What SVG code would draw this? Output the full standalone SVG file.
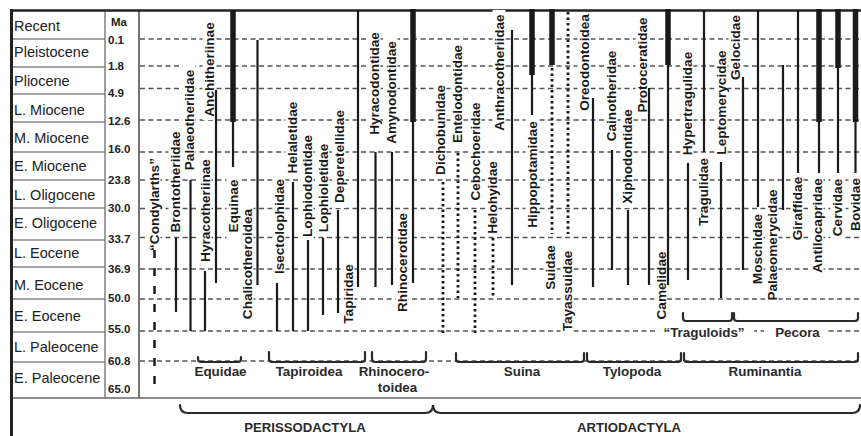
<svg xmlns="http://www.w3.org/2000/svg" width="861" height="436" viewBox="0 0 861 436">
<style>
.ep{font:14.5px "Liberation Sans",Arial,sans-serif;fill:#222}
.ma{font:bold 11.5px "Liberation Sans",Arial,sans-serif;fill:#222}
.tx{font:bold 13.6px "Liberation Sans",Arial,sans-serif;fill:#1a1a1a;text-anchor:middle;dominant-baseline:central}
.cl{font:bold 13.4px "Liberation Sans",Arial,sans-serif;fill:#2a2a2a;text-anchor:middle}
.big{font:bold 13.2px "Liberation Sans",Arial,sans-serif;fill:#2a2a2a;text-anchor:middle}
.bar{stroke:#1a1a1a;stroke-width:2.2;fill:none}
.thick{stroke:#1a1a1a;stroke-width:5.5}
.dot{stroke:#1a1a1a;stroke-width:2.8;stroke-dasharray:2.6 2.9;fill:none}
.grid{stroke:#555;stroke-width:1.3;stroke-dasharray:5 3.5}
.sep{stroke:#888;stroke-width:1.3}
.mask{fill:#fff}
.br{stroke:#2a2a2a;stroke-width:2.2;fill:none;stroke-linecap:round}
</style>
<rect width="861" height="436" fill="#fff"/>

<g id="grid" class="grid">
<line x1="140" y1="39" x2="861" y2="39"/>
<line x1="140" y1="66" x2="861" y2="66"/>
<line x1="140" y1="88.5" x2="861" y2="88.5"/>
<line x1="140" y1="120" x2="861" y2="120"/>
<line x1="140" y1="152" x2="861" y2="152"/>
<line x1="140" y1="180" x2="861" y2="180"/>
<line x1="140" y1="208.5" x2="861" y2="208.5"/>
<line x1="140" y1="237.5" x2="861" y2="237.5"/>
<line x1="140" y1="269" x2="861" y2="269"/>
<line x1="140" y1="299" x2="861" y2="299"/>
<line x1="140" y1="331" x2="861" y2="331"/>
<line x1="140" y1="361" x2="861" y2="361"/>
</g>

<g id="frame">
<line class="sep" x1="12" y1="39" x2="105" y2="39"/>
<line class="sep" x1="12" y1="67" x2="105" y2="67"/>
<line class="sep" x1="12" y1="94" x2="105" y2="94"/>
<line class="sep" x1="12" y1="122" x2="105" y2="122"/>
<line class="sep" x1="12" y1="152" x2="105" y2="152"/>
<line class="sep" x1="12" y1="180" x2="105" y2="180"/>
<line class="sep" x1="12" y1="208" x2="105" y2="208"/>
<line class="sep" x1="12" y1="240" x2="105" y2="240"/>
<line class="sep" x1="12" y1="267" x2="105" y2="267"/>
<line class="sep" x1="12" y1="299" x2="105" y2="299"/>
<line class="sep" x1="12" y1="332" x2="105" y2="332"/>
<line class="sep" x1="12" y1="362" x2="105" y2="362"/>
<line x1="105" y1="10" x2="105" y2="398" stroke="#777" stroke-width="1.4"/>
<line x1="139" y1="10" x2="139" y2="398" stroke="#444" stroke-width="1.5"/>
<line x1="11" y1="398" x2="861" y2="398" stroke="#666" stroke-width="1.5"/>
<line x1="10" y1="10.5" x2="861" y2="10.5" stroke="#222" stroke-width="2.6"/>
<line x1="11.5" y1="9" x2="11.5" y2="436" stroke="#222" stroke-width="3"/>
</g>

<g id="epochs" class="ep">
<text x="14" y="30.5">Recent</text>
<text x="14" y="57">Pleistocene</text>
<text x="14" y="86">Pliocene</text>
<text x="14" y="115">L. Miocene</text>
<text x="14" y="143">M. Miocene</text>
<text x="14" y="171">E. Miocene</text>
<text x="14" y="200">L. Oligocene</text>
<text x="14" y="228">E. Oligocene</text>
<text x="14" y="258">L. Eocene</text>
<text x="14" y="290">M. Eocene</text>
<text x="14" y="321">E. Eocene</text>
<text x="14" y="352">L. Paleocene</text>
<text x="14" y="383">E. Paleocene</text>
</g>

<g id="ma-scale" class="ma">
<text x="111" y="26">Ma</text>
<text x="108" y="44">0.1</text>
<text x="108" y="69.5">1.8</text>
<text x="108" y="97">4.9</text>
<text x="108" y="125">12.6</text>
<text x="108" y="153">16.0</text>
<text x="108" y="184">23.8</text>
<text x="108" y="212">30.0</text>
<text x="108" y="243">33.7</text>
<text x="108" y="273">36.9</text>
<text x="108" y="302">50.0</text>
<text x="108" y="333">55.0</text>
<text x="108" y="365">60.8</text>
<text x="108" y="393">65.0</text>
</g>

<g id="condylarths"><rect class="mask" x="147.5" y="159" width="13" height="91"/><text class="tx" transform="translate(154,204.5) rotate(-90)">“Condylarths”</text><line x1="154.5" y1="250" x2="154.5" y2="390" stroke="#1a1a1a" stroke-width="2.5" stroke-dasharray="8 10"/></g>
<g id="brontotheriidae"><rect class="mask" x="168.5" y="129" width="13" height="106"/><text class="tx" transform="translate(175,182) rotate(-90)">Brontotheriidae</text><line class="bar" x1="176" y1="238" x2="176" y2="312"/></g>
<g id="palaeotheriidae"><rect class="mask" x="182.5" y="65" width="13" height="110"/><text class="tx" transform="translate(189,120) rotate(-90)">Palaeotheriidae</text><line class="bar" x1="190.5" y1="180" x2="190.5" y2="331"/></g>
<g id="hyracotheriinae"><rect class="mask" x="198.5" y="156" width="13" height="109"/><text class="tx" transform="translate(205,210.5) rotate(-90)">Hyracotheriinae</text><line class="bar" x1="205" y1="271" x2="205" y2="331"/></g>
<g id="anchitheriinae"><rect class="mask" x="202.5" y="19" width="12.5" height="101"/><text class="tx" transform="translate(209,69.5) rotate(-90)">Anchitheriinae</text><line class="bar" x1="216" y1="90" x2="216" y2="283"/></g>
<g id="equinae"><rect class="mask" x="226.5" y="173" width="13" height="66"/><text class="tx" transform="translate(233,206) rotate(-90)">Equinae</text><line class="thick" x1="233" y1="10" x2="233" y2="122"/><line class="bar" x1="233" y1="122" x2="233" y2="167"/></g>
<g id="chalicotheroidea"><rect class="mask" x="240.5" y="205" width="13" height="118"/><text class="tx" transform="translate(247,264) rotate(-90)">Chalicotheroidea</text><line class="bar" x1="257.5" y1="40" x2="257.5" y2="285"/></g>
<g id="isectolophidae"><rect class="mask" x="272.5" y="175" width="13" height="103"/><text class="tx" transform="translate(279,226.5) rotate(-90)">Isectolophidae</text><line class="bar" x1="277" y1="283" x2="277" y2="331"/></g>
<g id="helaletidae"><rect class="mask" x="285.5" y="97" width="13" height="81"/><text class="tx" transform="translate(292,137.5) rotate(-90)">Helaletidae</text><line class="bar" x1="293" y1="182" x2="293" y2="331"/></g>
<g id="lophiodontidae"><rect class="mask" x="300.5" y="132" width="13" height="108"/><text class="tx" transform="translate(307,186) rotate(-90)">Lophiodontidae</text><line class="bar" x1="308" y1="240" x2="308" y2="331"/></g>
<g id="lophioletidae"><rect class="mask" x="316.5" y="140" width="13" height="96"/><text class="tx" transform="translate(323,188) rotate(-90)">Lophioletidae</text><line class="bar" x1="323" y1="238" x2="323" y2="315"/></g>
<g id="deperetellidae"><rect class="mask" x="332.5" y="105" width="13" height="103"/><text class="tx" transform="translate(339,156.5) rotate(-90)">Deperetellidae</text><line class="bar" x1="338" y1="210" x2="338" y2="313"/></g>
<g id="tapiridae"><rect class="mask" x="341.5" y="262" width="13" height="64"/><text class="tx" transform="translate(348,294) rotate(-90)">Tapiridae</text><line class="bar" x1="358" y1="10" x2="358" y2="287"/></g>
<g id="hyracodontidae"><rect class="mask" x="367.5" y="36" width="13" height="95"/><text class="tx" transform="translate(374,83.5) rotate(-90)">Hyracodontidae</text><line class="bar" x1="375.5" y1="152" x2="375.5" y2="287"/></g>
<g id="amynodontidae"><rect class="mask" x="384.5" y="36" width="13" height="113"/><text class="tx" transform="translate(391,92.5) rotate(-90)">Amynodontidae</text><line class="bar" x1="392" y1="152" x2="392" y2="285"/></g>
<g id="rhinocerotidae"><rect class="mask" x="395.5" y="210" width="13" height="105"/><text class="tx" transform="translate(402,262.5) rotate(-90)">Rhinocerotidae</text><line class="thick" x1="413" y1="9" x2="413" y2="122"/><line class="bar" x1="413" y1="122" x2="413" y2="283"/></g>
<g id="dichobunidae"><rect class="mask" x="433.5" y="82" width="13" height="96"/><text class="tx" transform="translate(440,130) rotate(-90)">Dichobunidae</text><line class="dot" x1="443" y1="182" x2="443" y2="333"/></g>
<g id="entelodontidae"><rect class="mask" x="450.5" y="42" width="13" height="104"/><text class="tx" transform="translate(457,94) rotate(-90)">Entelodontidae</text><line class="dot" x1="458" y1="153" x2="458" y2="298"/></g>
<g id="cebochoeridae"><rect class="mask" x="468.5" y="97" width="13" height="109"/><text class="tx" transform="translate(475,151.5) rotate(-90)">Cebochoeridae</text><line class="dot" x1="475" y1="210" x2="475" y2="333"/></g>
<g id="helohyidae"><rect class="mask" x="485.5" y="159" width="13" height="77"/><text class="tx" transform="translate(492,197.5) rotate(-90)">Helohyidae</text><line class="dot" x1="493" y1="238" x2="493" y2="298"/></g>
<g id="anthracotheriidae"><rect class="mask" x="492.5" y="10" width="13" height="125"/><text class="tx" transform="translate(499,72.5) rotate(-90)">Anthracotheriidae</text><line class="bar" x1="512" y1="30" x2="512" y2="285"/></g>
<g id="hippopotamidae"><rect class="mask" x="525.5" y="119" width="13" height="111"/><text class="tx" transform="translate(532,174.5) rotate(-90)">Hippopotamidae</text><line class="thick" x1="532" y1="9" x2="532" y2="75"/><line class="bar" x1="532" y1="75" x2="532" y2="115"/></g>
<g id="suidae"><rect class="mask" x="543.5" y="242" width="13" height="51"/><text class="tx" transform="translate(550,267.5) rotate(-90)">Suidae</text><line class="thick" x1="552" y1="9" x2="552" y2="65"/><line class="dot" x1="552" y1="68" x2="552" y2="234"/></g>
<g id="tayassuidae"><rect class="mask" x="560.5" y="242" width="13" height="98"/><text class="tx" transform="translate(567,291) rotate(-90)">Tayassuidae</text><line class="dot" x1="568" y1="12" x2="568" y2="234"/></g>
<g id="oreodontoidea"><rect class="mask" x="577.5" y="12" width="13" height="101"/><text class="tx" transform="translate(584,62.5) rotate(-90)">Oreodontoidea</text><line class="bar" x1="593" y1="98" x2="593" y2="287"/></g>
<g id="cainotheridae"><rect class="mask" x="604.5" y="47" width="13" height="98"/><text class="tx" transform="translate(611,96) rotate(-90)">Cainotheridae</text><line class="bar" x1="612" y1="150" x2="612" y2="270"/></g>
<g id="xiphodontidae"><rect class="mask" x="620.5" y="105" width="13" height="103"/><text class="tx" transform="translate(627,156.5) rotate(-90)">Xiphodontidae</text><line class="bar" x1="628" y1="210" x2="628" y2="285"/></g>
<g id="protoceratidae"><rect class="mask" x="635.5" y="12" width="12.5" height="106"/><text class="tx" transform="translate(642,65) rotate(-90)">Protoceratidae</text><line class="bar" x1="649" y1="88" x2="649" y2="285"/></g>
<g id="camelidae"><rect class="mask" x="654.5" y="250" width="12.5" height="71"/><text class="tx" transform="translate(661,285.5) rotate(-90)">Camelidae</text><line class="thick" x1="668" y1="9" x2="668" y2="65"/><line class="bar" x1="668" y1="65" x2="668" y2="285"/></g>
<g id="hypertragulidae"><rect class="mask" x="680.5" y="47" width="13" height="113"/><text class="tx" transform="translate(687,103.5) rotate(-90)">Hypertragulidae</text><line class="bar" x1="688" y1="163" x2="688" y2="280"/></g>
<g id="tragulidae"><rect class="mask" x="696.5" y="154" width="13" height="76"/><text class="tx" transform="translate(703,192) rotate(-90)">Tragulidae</text><line class="bar" x1="704" y1="10" x2="704" y2="152"/></g>
<g id="leptomerycidae"><rect class="mask" x="714.5" y="47" width="13" height="111"/><text class="tx" transform="translate(721,102.5) rotate(-90)">Leptomerycidae</text><line class="bar" x1="721" y1="162" x2="721" y2="298"/></g>
<g id="gelocidae"><rect class="mask" x="728.5" y="12" width="13" height="71"/><text class="tx" transform="translate(735,47.5) rotate(-90)">Gelocidae</text><line class="bar" x1="743" y1="77" x2="743" y2="270"/></g>
<g id="moschidae"><rect class="mask" x="750.5" y="210" width="13" height="78"/><text class="tx" transform="translate(757,249) rotate(-90)">Moschidae</text><line class="bar" x1="758" y1="10" x2="758" y2="207"/></g>
<g id="palaeomerycidae"><rect class="mask" x="765.5" y="185" width="13" height="120"/><text class="tx" transform="translate(772,245) rotate(-90)">Palaeomerycidae</text><line class="bar" x1="783" y1="65" x2="783" y2="210"/></g>
<g id="giraffidae"><rect class="mask" x="790.5" y="174" width="13" height="69"/><text class="tx" transform="translate(797,208.5) rotate(-90)">Giraffidae</text><line class="bar" x1="798" y1="10" x2="798" y2="173"/></g>
<g id="antilocapridae"><rect class="mask" x="810.5" y="175" width="13" height="101"/><text class="tx" transform="translate(817,225.5) rotate(-90)">Antilocapridae</text><line class="thick" x1="819" y1="9" x2="819" y2="122"/><line class="bar" x1="819" y1="122" x2="819" y2="173"/></g>
<g id="cervidae"><rect class="mask" x="830.5" y="174" width="13" height="67"/><text class="tx" transform="translate(837,207.5) rotate(-90)">Cervidae</text><line class="thick" x1="838" y1="9" x2="838" y2="68"/><line class="bar" x1="838" y1="68" x2="838" y2="173"/></g>
<g id="bovidae"><rect class="mask" x="848.5" y="174" width="13" height="61"/><text class="tx" transform="translate(855,204.5) rotate(-90)">Bovidae</text><line class="thick" x1="855.5" y1="9" x2="855.5" y2="122"/><line class="bar" x1="855.5" y1="122" x2="855.5" y2="173"/></g>

<g id="connectors">
<path class="br" d="M198,357 V359 Q198,362 201,362 H238 Q241,362 241,359 V357"/>
<path class="br" d="M269,352 V359 Q269,362 272,362 H362 Q365,362 365,359 V352"/>
<path class="br" d="M372,352 V359 Q372,362 375,362 H423 Q426,362 426,359 V352"/>
<path class="br" d="M456,353 V359 Q456,362 459,362 H581 Q584,362 584,359 V353"/>
<path class="br" d="M587,353 V359 Q587,362 590,362 H678 Q681,362 681,359 V353"/>
<path class="br" d="M684,353 V359 Q684,362 687,362 H855 Q858,362 858,359 V353"/>
<path class="br" d="M683,313 V318 Q683,321 686,321 H729 Q732,321 732,318 V313"/>
<path class="br" d="M734,313 V318 Q734,321 737,321 H855 Q858,321 858,318 V313"/>
<path class="br" d="M180,405 Q180,413 188,413 H425 Q433,413 433,405 Q433,413 441,413 H852 Q860,413 860,405"/>
</g>

<g id="clade-labels">
<text class="cl" x="220.5" y="376">Equidae</text>
<text class="cl" x="309" y="376">Tapiroidea</text>
<text class="cl" x="394" y="376">Rhinocero-</text>
<text class="cl" x="397.5" y="392">toidea</text>
<text class="cl" x="522" y="376">Suina</text>
<text class="cl" x="632" y="376">Tylopoda</text>
<text class="cl" x="765" y="376">Ruminantia</text>
<rect class="mask" x="658" y="323" width="96" height="16"/>
<rect class="mask" x="764" y="323" width="62" height="16"/>
<text class="cl" x="704" y="337">“Traguloids”</text>
<text class="cl" x="797.5" y="337">Pecora</text>
<text class="big" x="305" y="432">PERISSODACTYLA</text>
<text class="big" x="629" y="432">ARTIODACTYLA</text>
</g>
</svg>
